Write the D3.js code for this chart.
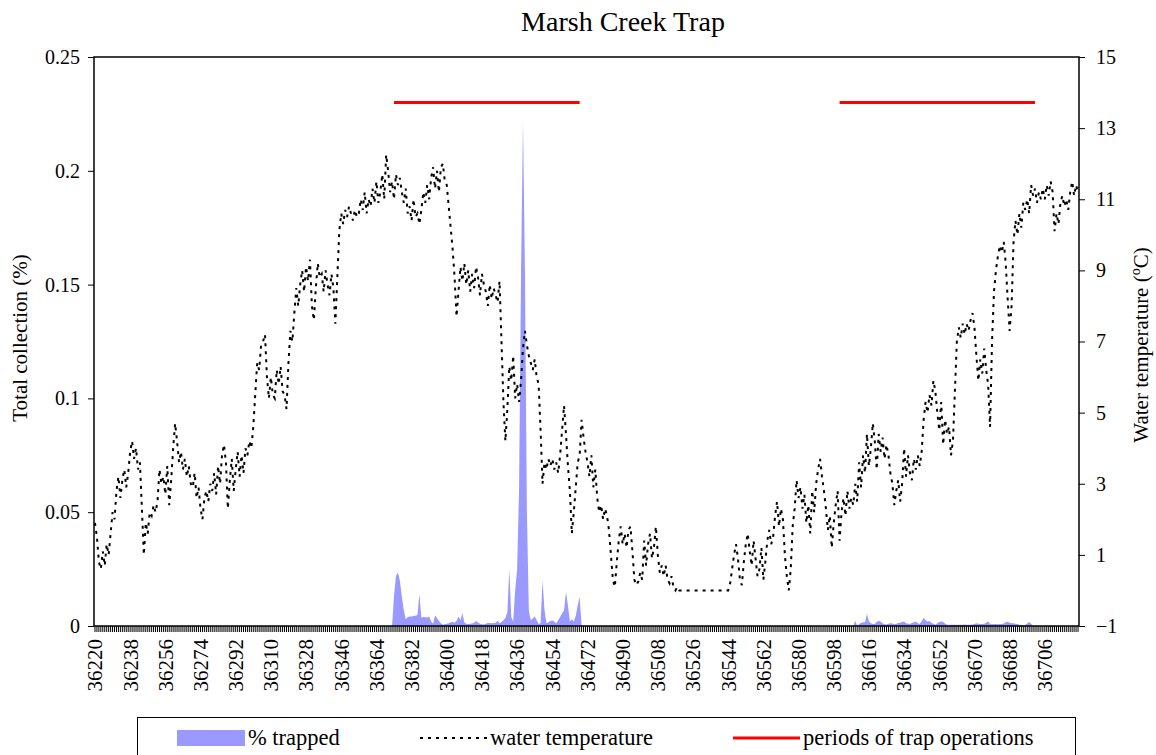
<!DOCTYPE html>
<html>
<head>
<meta charset="utf-8">
<script src="https://cdn.jsdelivr.net/npm/d3@7"></script>
<style>
	body { margin: 0; background: #fff; }
</style>
</head>
<body>
<svg id="chart" width="1156" height="755"></svg>
<script>

// days on the category axis (Excel serial dates)
var firstDay = 36220;
var lastDay = 36723;
var labelStep = 18;

// daily water temperature (oC), one value per day from firstDay
var waterTemp = [
	1.9,1.5,0.8,0.6,1.1,0.7,1.3,1.0,1.6,2.2,
	2.0,2.8,3.2,2.6,3.1,3.4,2.9,3.3,3.9,
	4.2,3.7,4.0,3.4,3.6,2.3,1.0,1.9,1.6,2.2,
	2.1,2.4,2.2,2.5,3.4,3.0,3.2,2.7,3.5,2.4,
	3.1,4.0,4.7,4.2,3.6,3.9,3.4,3.7,3.2,3.5,
	3.0,2.9,3.3,2.6,2.9,2.3,2.0,2.6,2.8,
	2.5,3.0,2.8,3.3,2.7,3.5,3.0,3.8,4.1,3.6,
	2.3,3.1,3.7,2.8,3.4,3.9,3.2,3.8,3.3,4.0,
	3.8,4.2,4.0,4.6,5.5,6.4,6.2,6.9,7.0,
	7.2,6.0,5.4,6.0,5.5,5.4,6.2,5.8,6.3,5.6,
	5.5,5.1,6.4,7.3,7.0,7.8,8.5,8.0,8.6,9.0,
	8.4,9.1,8.7,9.3,8.0,7.6,8.5,9.2,8.8,
	8.9,8.4,9.0,8.6,8.3,8.9,8.5,7.5,8.8,10.1,
	10.6,10.3,10.7,10.5,10.8,10.6,10.4,10.7,10.5,10.6,
	11.0,10.7,11.2,10.6,11.0,10.8,11.3,10.9,11.5,10.9,
	11.2,11.7,11.0,12.25,11.8,11.2,11.5,11.0,11.7,
	11.4,11.6,11.2,10.9,11.3,10.6,10.8,10.4,11.0,10.5,
	10.6,10.3,10.7,11.2,10.9,11.4,11.0,11.6,11.9,11.3,
	11.8,11.2,11.9,12.0,11.5,11.4,10.8,10.2,9.6,
	8.8,7.7,8.4,9.1,8.7,9.2,8.6,9.0,8.4,8.9,
	8.5,9.1,8.8,8.3,8.9,8.6,8.4,8.0,8.6,8.2,
	8.5,8.3,8.1,8.7,7.0,5.3,4.2,5.1,6.3,5.9,
	6.6,5.4,5.8,5.3,5.9,6.8,7.3,6.9,6.6,
	6.4,6.2,6.5,6.0,5.8,4.5,3.0,3.6,3.4,3.7,
	3.5,3.7,3.4,3.6,3.3,3.8,4.5,5.2,4.4,3.5,
	2.8,1.6,2.2,2.9,3.6,3.8,4.8,4.3,3.9,
	3.6,3.2,3.8,2.9,3.4,2.6,2.2,2.4,2.0,2.3,
	2.1,1.7,1.0,0.3,0.1,0.8,1.4,1.8,1.3,1.6,
	1.2,1.7,1.8,1.1,0.3,0.15,0.25,0.5,0.3,
	1.4,0.7,1.3,1.6,0.9,1.2,1.8,1.0,0.5,0.7,
	0.4,0.7,0.3,0.2,0.4,0.1,0,0.1,0,0,
	0,0,0,0,0,0,0,0,0,0,
	0,0,0,0,0,0,0,0,0,
	0,0,0,0,0,0.2,0.6,1.0,1.3,0.9,
	0.3,0.15,0.8,1.3,1.6,1.1,0.7,1.4,0.9,0.4,
	0.6,1.2,0.3,0.8,1.4,1.7,1.3,1.5,2.1,
	2.5,1.8,2.3,2.0,1.0,0.4,0.0,0.6,1.8,2.3,
	3.1,2.6,2.9,2.3,2.7,1.9,2.4,1.6,2.8,2.2,
	3.0,3.4,3.7,3.2,2.8,2.3,1.7,2.1,1.2,1.9,
	2.4,2.8,1.4,2.2,2.6,2.1,2.8,2.3,2.6,
	2.4,3.0,2.5,3.6,2.9,3.8,3.3,4.4,3.5,4.0,
	4.7,4.2,3.4,4.4,3.9,4.3,3.7,4.1,3.8,3.3,
	3.0,2.4,2.8,3.1,2.5,3.0,4.0,3.2,3.8,
	3.3,3.1,3.7,3.4,3.8,3.5,3.9,4.8,5.3,5.0,
	5.5,5.2,5.9,5.6,5.0,4.5,5.3,4.1,4.8,4.4,
	4.6,3.8,4.2,5.6,7.0,7.4,7.1,7.5,7.2,
	7.5,7.3,7.6,7.8,7.4,6.6,5.9,6.5,6.1,6.8,
	6.2,5.8,4.6,7.0,8.4,9.0,9.4,9.7,9.5,9.8,
	9.2,8.2,7.3,8.0,9.8,10.4,10.0,10.6,10.2,10.9,
	10.7,11.0,10.6,11.4,11.1,11.3,10.9,11.2,11.0,
	11.3,11.0,11.4,11.1,11.5,11.2,10.1,10.6,10.3,10.9,
	11.1,10.8,11.0,10.7,11.2,11.5,11.1,11.4,11.2
];

// % trapped, first trap period, daily from trapStart1
var trapStart1 = 36372;
var trapped1 = [
	0,0.013,0.022,0.0235,0.020,0.013,0.007,0.003,0.0038,0.0042,
	0.0042,0.0044,0.0045,0.0048,0.0142,0.0036,0.004,0.0038,0.0037,0.0042,
	0.002,0.001,0.0047,0.0035,0.0022,0.0012,0.0006,0.0008,0.001,0.0012,
	0.0017,0.0019,0.0014,0.0022,0.0042,0.0025,0.0057,0.0015,0.001,0.0009,
	0.001,0.0011,0.0014,0.0022,0.0015,0.001,0.0008,0.0007,0.001,0.0013,
	0.0013,0.0012,0.0013,0.0014,0.0023,0.0012,0.0018,0.0025,0.0035,0.006,
	0.0252,0.004,0.002,0.0157,0.025,0.06,0.155,0.222,0.155,0.05,
	0.0065,0.0025,0.0033,0.0042,0.0025,0.001,0.0012,0.020,0.007,0.0012,
	0.0016,0.0022,0.0024,0.002,0.0011,0.0025,0.004,0.0055,0.0068,0.015,
	0.009,0.002,0.003,0.002,0.0045,0.009,0.0127,0
];

// % trapped, second trap period, daily from trapStart2
var trapStart2 = 36608;
var trapped2 = [
	0,0.0023,0.0002,0.0008,0.0014,0.0016,0.0017,0.0053,0.0021,0.0012,
	0.0009,0.0009,0.0018,0.0023,0.0019,0.0012,0.0008,0.0007,0.001,0.0012,
	0.0011,0.0008,0.001,0.0013,0.0015,0.0018,0.002,0.0012,0.001,0.0009,
	0.0013,0.0017,0.002,0.0012,0.0009,0.0022,0.0035,0.0025,0.002,0.0022,
	0.0013,0.001,0.0006,0.0012,0.0018,0.002,0.0018,0.001,0.0006,0.0006,
	0.0005,0.0006,0.0006,0.0006,0.0005,0.0006,0.0006,0.0007,0.0006,0.0006,
	0.0006,0.0007,0.0009,0.0012,0.001,0.0009,0.0009,0.001,0.0014,0.002,
	0.0009,0.0008,0.0009,0.0009,0.0008,0.0009,0.0009,0.0011,0.0016,0.0019,
	0.0014,0.0012,0.0012,0.001,0.0009,0.0006,0.0004,0.0003,0.0006,0.0011,
	0.0018,0.001,0
];

// periods of trap operations [first day, last day], drawn at this level
var operationPeriods = [[36373, 36468], [36601, 36701]];
var operationLevel = 0.23;

var leftTicks = [0, 0.05, 0.1, 0.15, 0.2, 0.25];
var rightTicks = [-1, 1, 3, 5, 7, 9, 11, 13, 15];

var serif = "'Liberation Serif', 'Times New Roman', Times, serif";

var svg = d3.select("#chart");

var plot = { left: 94, right: 1079, top: 57, bottom: 626 };

var days = d3.range(firstDay, lastDay + 1);

var x = d3.scaleBand().domain(days).range([plot.left, plot.right]).padding(0);
var xc = function(d) { return x(d) + x.bandwidth() / 2; };
var yL = d3.scaleLinear().domain([0, 0.25]).range([plot.bottom, plot.top]);
var yR = d3.scaleLinear().domain([-1, 15]).range([plot.bottom, plot.top]);

function series(start, values) {
	return values.map(function(v, i) { return { day: start + i, v: v }; });
}

// % trapped areas
var area = d3.area()
	.x(function(d) { return xc(d.day); })
	.y0(yL(0))
	.y1(function(d) { return yL(d.v); });

[series(trapStart1, trapped1), series(trapStart2, trapped2)].forEach(function(s) {
	svg.append("path")
		.datum(s)
		.attr("d", area)
		.attr("fill", "#9999ff")
		.attr("stroke", "none");
});

// water temperature, dotted
var tempLine = d3.line()
	.x(function(d) { return xc(d.day); })
	.y(function(d) { return yR(d.v); });

svg.append("path")
	.datum(series(firstDay, waterTemp))
	.attr("d", tempLine)
	.attr("fill", "none")
	.attr("stroke", "#000")
	.attr("stroke-width", 2)
	.attr("stroke-dasharray", "3,5");

// trap operation periods
var opLine = d3.line()
	.x(function(d) { return xc(d); })
	.y(function() { return yL(operationLevel); });

operationPeriods.forEach(function(p) {
	svg.append("path")
		.datum(d3.range(p[0], p[1] + 1))
		.attr("d", opLine)
		.attr("fill", "none")
		.attr("stroke", "#ff0000")
		.attr("stroke-width", 3);
});

// plot frame
svg.append("rect")
	.attr("x", plot.left)
	.attr("y", plot.top)
	.attr("width", plot.right - plot.left)
	.attr("height", plot.bottom - plot.top)
	.attr("fill", "none")
	.attr("stroke", "#000")
	.attr("stroke-width", 1.5);

// axes
var gL = svg.append("g")
	.attr("transform", "translate(" + plot.left + ",0)")
	.call(d3.axisLeft(yL).tickValues(leftTicks).tickSize(6).tickPadding(8)
		.tickFormat(function(d) { return String(+d.toFixed(2)); }));

var gR = svg.append("g")
	.attr("transform", "translate(" + plot.right + ",0)")
	.call(d3.axisRight(yR).tickValues(rightTicks).tickSize(6).tickPadding(11));

var gX = svg.append("g")
	.attr("transform", "translate(0," + plot.bottom + ")")
	.call(d3.axisBottom(x).tickValues(days).tickSize(6)
		.tickFormat(function(d, i) { return (d - firstDay) % labelStep === 0 ? d : ""; }));

[gL, gR, gX].forEach(function(g) {
	g.attr("font-family", serif).attr("font-size", 20);
	g.select(".domain").remove();
	g.selectAll("line").attr("stroke", "#000");
	g.selectAll("text").attr("fill", "#000").style("font-family", serif);
});

gX.attr("font-size", 21);
gX.selectAll("text")
	.attr("transform", "rotate(-90)")
	.attr("x", -13)
	.attr("y", 0)
	.attr("dy", "0.35em")
	.style("text-anchor", "end");

// titles
svg.append("text")
	.attr("x", 623)
	.attr("y", 31)
	.attr("text-anchor", "middle")
	.attr("font-size", 28)
	.style("font-family", serif)
	.text("Marsh Creek Trap");

svg.append("text")
	.attr("transform", "translate(27,338) rotate(-90)")
	.attr("text-anchor", "middle")
	.attr("font-size", 21)
	.style("font-family", serif)
	.text("Total collection (%)");

var rt = svg.append("text")
	.attr("transform", "translate(1148,345) rotate(-90)")
	.attr("text-anchor", "middle")
	.attr("font-size", 21)
	.style("font-family", serif);
rt.append("tspan").text("Water temperature (");
rt.append("tspan").attr("dy", -8).attr("font-size", 14).text("o");
rt.append("tspan").attr("dy", 8).text("C)");

// legend
var legend = svg.append("g");

legend.append("rect")
	.attr("x", 137.5)
	.attr("y", 717.5)
	.attr("width", 938)
	.attr("height", 60)
	.attr("fill", "#fff")
	.attr("stroke", "#000")
	.attr("stroke-width", 1);

legend.append("rect")
	.attr("x", 177)
	.attr("y", 730)
	.attr("width", 68)
	.attr("height", 16)
	.attr("fill", "#9999ff");

legend.append("line")
	.attr("x1", 420).attr("x2", 487)
	.attr("y1", 738).attr("y2", 738)
	.attr("stroke", "#000")
	.attr("stroke-width", 2)
	.attr("stroke-dasharray", "3,5");

legend.append("line")
	.attr("x1", 733).attr("x2", 800)
	.attr("y1", 738).attr("y2", 738)
	.attr("stroke", "#ff0000")
	.attr("stroke-width", 3);

var legendItems = [
	{ x: 248, text: "% trapped" },
	{ x: 490, text: "water temperature" },
	{ x: 803, text: "periods of trap operations" }
];

legend.selectAll(".ltext")
	.data(legendItems)
	.enter()
	.append("text")
	.attr("class", "ltext")
	.attr("x", function(d) { return d.x; })
	.attr("y", 745)
	.attr("font-size", 22.5)
	.style("font-family", serif)
	.text(function(d) { return d.text; });

</script>
</body>
</html>
